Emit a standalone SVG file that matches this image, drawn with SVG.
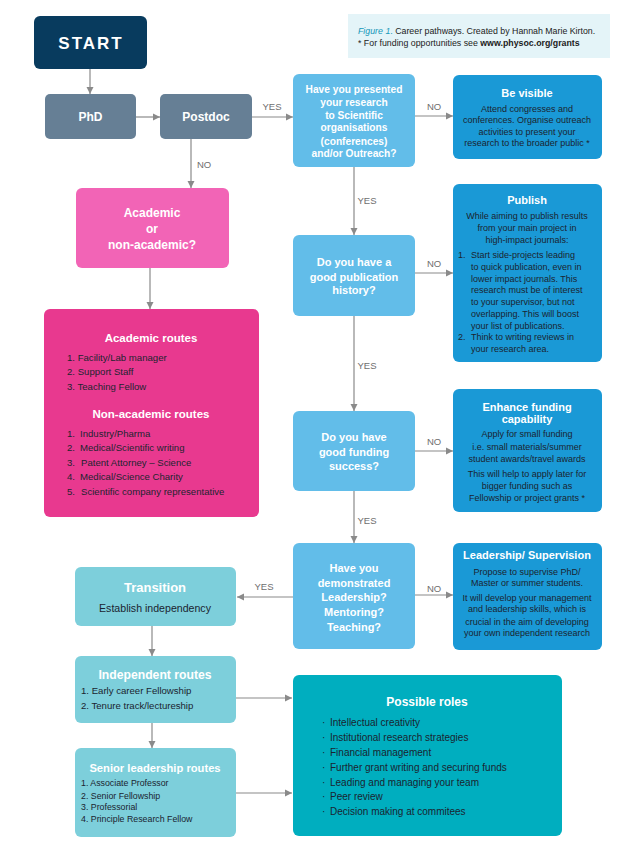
<svg xmlns="http://www.w3.org/2000/svg" width="642" height="859" viewBox="0 0 642 859">
<defs>
<marker id="ah" markerWidth="8" markerHeight="8" refX="7" refY="4" orient="auto" markerUnits="userSpaceOnUse">
<path d="M0,0.5 L7,4 L0,7.5 Z" fill="#8a8a8a"/>
</marker>
<style>
text{font-family:"Liberation Sans",Arial,sans-serif}
.t{font-weight:bold;fill:#fff;text-anchor:middle}
.b{fill:#1b2430;font-size:9px}
.c{text-anchor:middle}
.lbl{fill:#6e6e6e;font-size:9.5px;text-anchor:middle}
.ln{fill:none;stroke:#8a8a8a;stroke-width:1.2;marker-end:url(#ah)}
.q{fill:#62bde9}
.a{fill:#1a99d6}
.tl{fill:#7dcfdb}
</style>
</defs>
<rect width="642" height="859" fill="#fff"/>

<g id="caption">
<rect x="348" y="14" width="262" height="44" fill="#e4f4f8"/>
<text x="358" y="34" style="font-size:8.8px;fill:#222"><tspan style="font-style:italic;fill:#1597b8">Figure 1</tspan><tspan fill="#1597b8">.</tspan> Career pathways. Created by Hannah Marie Kirton.</text>
<text x="358" y="46" style="font-size:8.8px;fill:#222">* For funding opportunities see <tspan font-weight="bold">www.physoc.org/grants</tspan></text>
</g>

<g id="connectors">
<path class="ln" d="M90 69 V94"/>
<path class="ln" d="M136 117 H160"/>
<path class="ln" d="M252 117 H293"/>
<path class="ln" d="M191 139 V188"/>
<path class="ln" d="M150 268 V309"/>
<path class="ln" d="M415 116 H453"/>
<path class="ln" d="M354 167 V235"/>
<path class="ln" d="M415 273 H453"/>
<path class="ln" d="M354 316 V411"/>
<path class="ln" d="M415 451 H453"/>
<path class="ln" d="M354 491 V543"/>
<path class="ln" d="M415 595 H453"/>
<path class="ln" d="M293 597 H237"/>
<path class="ln" d="M152 626 V656"/>
<path class="ln" d="M152 723 V748"/>
<path class="ln" d="M236 698 H292"/>
<path class="ln" d="M236 793 H292"/>
<text class="lbl" x="272" y="110">YES</text>
<text class="lbl" x="204" y="168">NO</text>
<text class="lbl" x="434" y="110">NO</text>
<text class="lbl" x="367" y="204">YES</text>
<text class="lbl" x="434" y="267">NO</text>
<text class="lbl" x="367" y="369">YES</text>
<text class="lbl" x="434" y="445">NO</text>
<text class="lbl" x="367" y="524">YES</text>
<text class="lbl" x="434" y="592">NO</text>
<text class="lbl" x="264" y="590">YES</text>
</g>

<g id="start">
<rect x="34" y="16" width="113" height="53" rx="6" fill="#083b5e"/>
<text class="t" x="91" y="49" style="font-size:17px;letter-spacing:2px">START</text>
</g>

<g id="phd">
<rect x="45" y="94" width="91" height="45" rx="5" fill="#667f95"/>
<text class="t" x="90.5" y="121" style="font-size:12px">PhD</text>
</g>

<g id="postdoc">
<rect x="160" y="94" width="92" height="45" rx="5" fill="#667f95"/>
<text class="t" x="206" y="121" style="font-size:12px">Postdoc</text>
</g>

<g id="academic-choice">
<rect x="76" y="188" width="153" height="80" rx="6" fill="#f264b6"/>
<text class="t" style="font-size:12px"><tspan x="152" y="217">Academic</tspan><tspan x="152" y="233">or</tspan><tspan x="152" y="249">non-academic?</tspan></text>
</g>

<g id="routes">
<rect x="44" y="309" width="215" height="208" rx="6" fill="#e8398f"/>
<text class="t" x="151" y="342" style="font-size:11.5px">Academic routes</text>
<text class="b" style="font-size:9.6px"><tspan x="67" y="361">1.  Facility/Lab manager</tspan><tspan x="67" y="375">2.  Support Staff</tspan><tspan x="67" y="390">3.  Teaching Fellow</tspan></text>
<text class="t" x="151" y="418" style="font-size:11.5px">Non-academic routes</text>
<text class="b" style="font-size:9.6px"><tspan x="67" y="437">1.</tspan><tspan x="67" y="451">2.</tspan><tspan x="67" y="466">3.</tspan><tspan x="67" y="480">4.</tspan><tspan x="67" y="495">5.</tspan></text>
<text class="b" style="font-size:9.6px"><tspan x="80" y="437">Industry/Pharma</tspan><tspan x="80" y="451">Medical/Scientific writing</tspan><tspan x="81" y="466">Patent Attorney – Science</tspan><tspan x="80" y="480">Medical/Science Charity</tspan><tspan x="81" y="495">Scientific company representative</tspan></text>
</g>

<g id="q1">
<rect class="q" x="293" y="74" width="122" height="93" rx="6"/>
<text class="t" style="font-size:10.2px"><tspan x="354" y="93">Have you presented</tspan><tspan x="354" y="106">your research</tspan><tspan x="354" y="119">to Scientific</tspan><tspan x="354" y="131">organisations</tspan><tspan x="354" y="145">(conferences)</tspan><tspan x="354" y="157">and/or Outreach?</tspan></text>
</g>

<g id="be-visible">
<rect class="a" x="453" y="75" width="149" height="84" rx="6"/>
<text class="t" x="527" y="97" style="font-size:11px">Be visible</text>
<text class="b c"><tspan x="527" y="112">Attend congresses and</tspan><tspan x="527" y="123">conferences. Organise outreach</tspan><tspan x="527" y="135">activities to present your</tspan><tspan x="527" y="146">research to the broader public *</tspan></text>
</g>

<g id="q2">
<rect class="q" x="293" y="235" width="122" height="81" rx="6"/>
<text class="t" style="font-size:11px"><tspan x="354" y="266">Do you have a</tspan><tspan x="354" y="281">good publication</tspan><tspan x="354" y="294">history?</tspan></text>
</g>

<g id="publish">
<rect class="a" x="453" y="184" width="149" height="178" rx="6"/>
<text class="t" x="527" y="204" style="font-size:11px">Publish</text>
<text class="b c"><tspan x="527" y="219">While aiming to publish results</tspan><tspan x="527" y="231">from your main project in</tspan><tspan x="527" y="243">high-impact journals:</tspan></text>
<text class="b"><tspan x="458" y="258">1.</tspan><tspan x="458" y="340">2.</tspan></text>
<text class="b"><tspan x="471" y="258">Start side-projects leading</tspan><tspan x="471" y="270">to quick publication, even in</tspan><tspan x="471" y="282">lower impact journals. This</tspan><tspan x="471" y="293">research must be of interest</tspan><tspan x="471" y="305">to your supervisor, but not</tspan><tspan x="471" y="317">overlapping. This will boost</tspan><tspan x="471" y="329">your list of publications.</tspan><tspan x="471" y="340">Think to writing reviews in</tspan><tspan x="471" y="352">your research area.</tspan></text>
</g>

<g id="q3">
<rect class="q" x="293" y="411" width="122" height="80" rx="6"/>
<text class="t" style="font-size:11px"><tspan x="354" y="441">Do you have</tspan><tspan x="354" y="456">good funding</tspan><tspan x="354" y="470">success?</tspan></text>
</g>

<g id="funding">
<rect class="a" x="453" y="389" width="149" height="123" rx="6"/>
<text class="t" style="font-size:11px"><tspan x="527" y="411">Enhance funding</tspan><tspan x="527" y="423">capability</tspan></text>
<text class="b c"><tspan x="527" y="437">Apply for small funding</tspan><tspan x="527" y="450">i.e. small materials/summer</tspan><tspan x="527" y="462">student awards/travel awards</tspan><tspan x="527" y="477">This will help to apply later for</tspan><tspan x="527" y="489">bigger funding such as</tspan><tspan x="527" y="501">Fellowship or project grants *</tspan></text>
</g>

<g id="q4">
<rect class="q" x="293" y="543" width="122" height="106" rx="6"/>
<text class="t" style="font-size:11px"><tspan x="354" y="572">Have you</tspan><tspan x="354" y="587">demonstrated</tspan><tspan x="354" y="601">Leadership?</tspan><tspan x="354" y="616">Mentoring?</tspan><tspan x="354" y="631">Teaching?</tspan></text>
</g>

<g id="leadership">
<rect class="a" x="453" y="543" width="149" height="107" rx="6"/>
<text class="t" x="527" y="559" style="font-size:11px">Leadership/ Supervision</text>
<text class="b c"><tspan x="527" y="575">Propose to supervise PhD/</tspan><tspan x="527" y="586">Master or summer students.</tspan><tspan x="527" y="601">It will develop your management</tspan><tspan x="527" y="612">and leadership skills, which is</tspan><tspan x="527" y="625">crucial in the aim of developing</tspan><tspan x="527" y="636">your own independent research</tspan></text>
</g>

<g id="transition">
<rect class="tl" x="75" y="567" width="161" height="59" rx="6"/>
<text class="t" x="155" y="592" style="font-size:13px">Transition</text>
<text class="b c" x="155" y="612" style="font-size:10.6px">Establish independency</text>
</g>

<g id="independent">
<rect class="tl" x="75" y="656" width="161" height="67" rx="6"/>
<text class="t" x="155" y="679" style="font-size:12.2px">Independent routes</text>
<text class="b" style="font-size:9.6px"><tspan x="81" y="694">1. Early career Fellowship</tspan><tspan x="81" y="709">2. Tenure track/lectureship</tspan></text>
</g>

<g id="senior">
<rect class="tl" x="75" y="748" width="161" height="89" rx="6"/>
<text class="t" x="155" y="772" style="font-size:11.2px">Senior leadership routes</text>
<text class="b" style="font-size:8.8px"><tspan x="81" y="786">1. Associate Professor</tspan><tspan x="81" y="799">2. Senior Fellowship</tspan><tspan x="81" y="810">3. Professorial</tspan><tspan x="81" y="822">4. Principle Research Fellow</tspan></text>
</g>

<g id="roles">
<rect x="293" y="675" width="269" height="161" rx="6" fill="#00aebf"/>
<text class="t" x="427" y="706" style="font-size:12px">Possible roles</text>
<text class="b" style="font-size:10px"><tspan x="322" y="726">·</tspan><tspan x="322" y="741">·</tspan><tspan x="322" y="756">·</tspan><tspan x="322" y="771">·</tspan><tspan x="322" y="786">·</tspan><tspan x="322" y="800">·</tspan><tspan x="322" y="815">·</tspan></text>
<text class="b" style="font-size:10px"><tspan x="330" y="726">Intellectual creativity</tspan><tspan x="330" y="741">Institutional research strategies</tspan><tspan x="330" y="756">Financial management</tspan><tspan x="330" y="771">Further grant writing and securing funds</tspan><tspan x="330" y="786">Leading and managing your team</tspan><tspan x="330" y="800">Peer review</tspan><tspan x="330" y="815">Decision making at commitees</tspan></text>
</g>
</svg>
